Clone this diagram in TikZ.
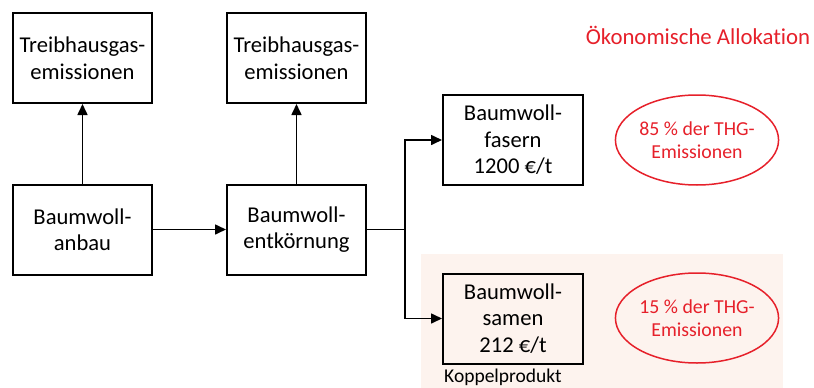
\documentclass[tikz,border=0pt]{standalone}
\usepackage{fontspec}
\setmainfont[Ligatures=NoCommon]{Carlito}
\usetikzlibrary{arrows.meta,shapes.geometric}

\definecolor{allored}{RGB}{230,32,42}
\definecolor{koppelbg}{RGB}{253,243,238}

\begin{document}
\begin{tikzpicture}[x=1pt,y=-1pt,
box/.style={draw, line width=2pt, minimum width=139pt, minimum height=90pt, align=center, inner sep=0pt, font=\fontsize{22.6}{26.5}\selectfont},
share/.style={draw=allored, ellipse, line width=1.5pt, minimum width=140pt, minimum height=90pt, inner sep=0pt, align=center, text=allored, font=\fontsize{19.8}{23}\selectfont},
arr/.style={line width=1.6pt, -{Triangle[length=11pt,width=10pt]}},
]
\useasboundingbox (0,0) rectangle (814,388);

% Koppelprodukt background:
\fill[koppelbg] (421,254) rectangle (783,388);

\node[box] at (82.5,58) (em1) {Treibhausgas-\\emissionen};
\node[box] at (296.5,58) (em2) {Treibhausgas-\\emissionen};
\node[box] at (82.5,229.5) (anbau) {Baumwoll-\\anbau};
\node[box] at (296.5,229.5) (entk) {Baumwoll-\\entkörnung};
\node[box, minimum width=140pt] at (513,140) (fasern) {Baumwoll-\\fasern\\1200 €/t};
\node[box, minimum width=140pt] at (513,318.5) (samen) {Baumwoll-\\samen\\212 €/t};

\node[share] at (697,140) (s85) {85 \% der THG-\\Emissionen};
\node[share] at (697,318) (s15) {15 \% der THG-\\Emissionen};

\node[text=allored, font=\fontsize{22.8}{26}\selectfont] at (698,35) (title) {Ökonomische Allokation};
\node[font=\fontsize{19.5}{22}\selectfont] at (503,377) (koppel) {Koppelprodukt};

\coordinate (split) at (405,229.5);

\draw[arr] (anbau) -- (em1);
\draw[arr] (entk) -- (em2);
\draw[arr] (anbau) -- (entk);
\draw[line width=1.6pt] (entk) -- (split);
\draw[arr] (split) |- (fasern);
\draw[arr] (split) |- (samen);
\end{tikzpicture}
\end{document}
